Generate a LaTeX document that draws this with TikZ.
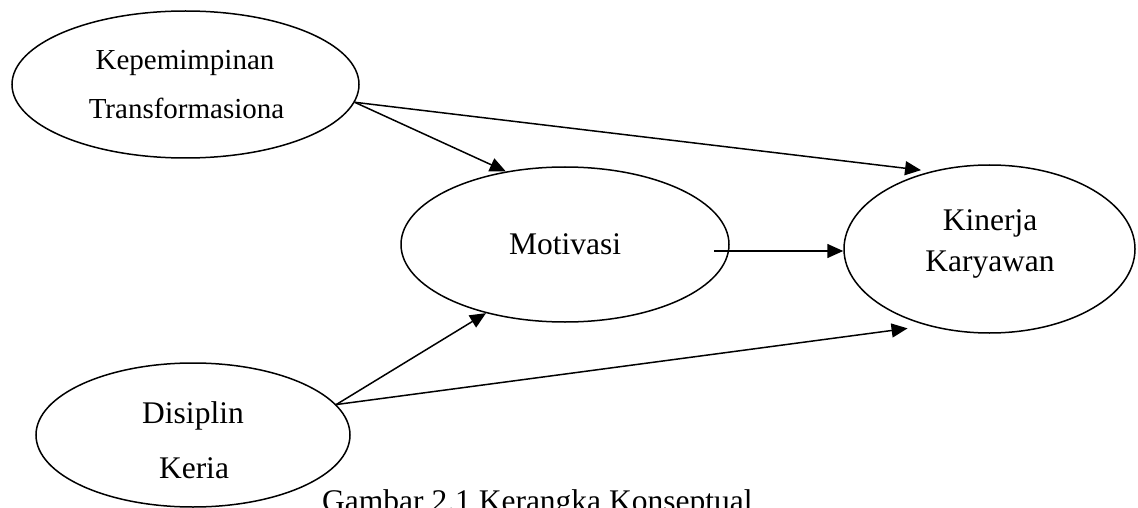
\documentclass[tikz,border=0pt]{standalone}
\usepackage{fontspec}
\setmainfont{Liberation Serif}
\usetikzlibrary{shapes.geometric,arrows.meta}
\begin{document}
\begin{tikzpicture}[x=1pt,y=-1pt,
  oval/.style={draw,ellipse,line width=1.5pt,inner sep=0pt},
  lbl/.style={anchor=base,inner sep=0pt,font=\fontsize{31.5}{36}\selectfont},
  lblsmall/.style={anchor=base,inner sep=0pt,font=\fontsize{29}{34}\selectfont},
  arr/.style={line width=1.5pt,-{Triangle[length=16pt,width=14pt]}}]
\clip (0,0) rectangle (1138,508);
% ellipses
\node[oval,minimum width=347pt,minimum height=147pt] (kt) at (185.5,84.5) {};
\node[oval,minimum width=328pt,minimum height=155pt] (mot) at (565,244.5) {};
\node[oval,minimum width=291pt,minimum height=168pt] (kin) at (989.5,249) {};
\node[oval,minimum width=314pt,minimum height=144pt] (dk) at (193,435) {};
% texts
\node[lblsmall] (t1) at (185,69.5) {Kepemimpinan};
\node[lblsmall] (t2) at (186.5,118.5) {Transformasiona};
\node[lbl] (t3) at (565,254) {Motivasi};
\node[lbl] (t4) at (990,230) {Kinerja};
\node[lbl] (t5) at (990,271.5) {Karyawan};
\node[lbl] (t6) at (193,423) {Disiplin};
\node[lbl] (t7) at (194,478) {Keria};
\node[lbl,anchor=base west] (cap) at (322,511) {Gambar 2.1 Kerangka Konseptual};
% arrows
\draw[arr] (kt.-6) -- (mot.129);
\draw[arr,shorten >=10pt] (kt.-6) -- (kin.127.6);
\coordinate (ms) at (714,251);
\draw[arr] (ms) -- (ms -| kin.west);
\draw[arr] (dk.12.7) -- (mot.221);
\draw[arr,shorten >=20pt] (dk.12.7) -- (kin.231.4);
\end{tikzpicture}
\end{document}
